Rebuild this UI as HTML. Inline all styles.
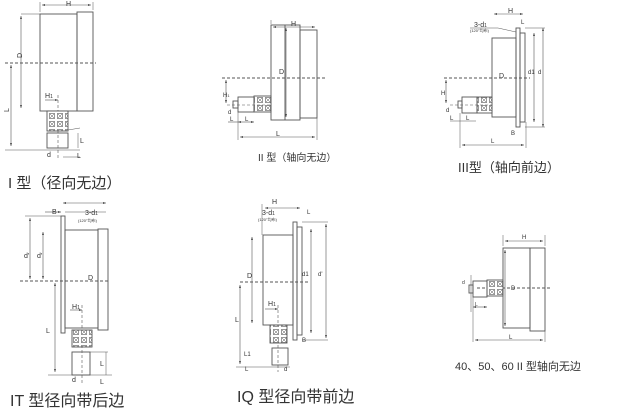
<!DOCTYPE html>
<html><head><meta charset="utf-8">
<style>
html,body{margin:0;padding:0;background:#fff;}
svg{display:block}
text{font-family:"Liberation Sans","Noto Sans CJK SC",sans-serif;fill:#333}
</style></head><body>
<svg width="619" height="414" viewBox="0 0 619 414" xmlns="http://www.w3.org/2000/svg">
<defs>
<marker id="a" viewBox="0 0 6 6" refX="6" refY="3" markerWidth="5" markerHeight="5" orient="auto-start-reverse"><path d="M0,1 L6,3 L0,5z" fill="#444"/></marker>
<pattern id="x" width="8" height="8" patternUnits="userSpaceOnUse"><rect width="8" height="8" fill="#fff"/><rect x="1.5" y="1.5" width="5" height="5" fill="none" stroke="#555" stroke-width="0.6"/><path d="M1.5,1.5L6.5,6.5M6.5,1.5L1.5,6.5" stroke="#555" stroke-width="0.5"/></pattern>
</defs>
<g fill="none" stroke="#555" stroke-width="0.9">
<!-- ===== I type ===== -->
<rect x="40" y="14" width="37" height="97"/>
<rect x="77" y="12" width="16" height="99"/>
<line x1="5" y1="63" x2="96" y2="63" stroke-dasharray="3,2"/>
<line x1="21" y1="14" x2="40" y2="14" stroke-width="0.5"/>
<line x1="21" y1="16" x2="21" y2="108" marker-start="url(#a)" marker-end="url(#a)" stroke-width="0.6"/>
<line x1="40" y1="2" x2="40" y2="12" stroke-width="0.5"/><line x1="93" y1="2" x2="93" y2="10" stroke-width="0.5"/>
<line x1="42" y1="5" x2="91" y2="5" marker-start="url(#a)" marker-end="url(#a)" stroke-width="0.6"/>
<line x1="11" y1="65" x2="11" y2="146" marker-start="url(#a)" marker-end="url(#a)" stroke-width="0.6"/>
<line x1="5" y1="150" x2="80" y2="150" stroke-width="0.6"/>
<line x1="45" y1="100" x2="58" y2="100" marker-end="url(#a)" stroke-width="0.6"/>
<line x1="58" y1="95" x2="58" y2="158" stroke-dasharray="3,2" stroke-width="0.6"/>
<rect x="47" y="111" width="21" height="20" fill="url(#x)"/>
<rect x="47" y="133" width="21" height="15"/>
<line x1="68" y1="130" x2="80" y2="128" stroke-width="0.5"/>
<line x1="78" y1="133" x2="78" y2="148" stroke-width="0.5"/>
<line x1="63" y1="157" x2="80" y2="157" stroke-width="0.5"/>
<!-- ===== IT type ===== -->
<rect x="61" y="216" width="4" height="117"/>
<rect x="65" y="230" width="33" height="98"/>
<rect x="98" y="229" width="10" height="101"/>
<line x1="20" y1="281" x2="110" y2="281" stroke-dasharray="3,2"/>
<line x1="30" y1="218" x2="30" y2="279" marker-start="url(#a)" marker-end="url(#a)" stroke-width="0.6"/>
<line x1="43" y1="232" x2="43" y2="279" marker-start="url(#a)" marker-end="url(#a)" stroke-width="0.6"/>
<line x1="25" y1="216" x2="61" y2="216" stroke-width="0.5"/>
<line x1="55" y1="283" x2="55" y2="372" marker-start="url(#a)" marker-end="url(#a)" stroke-width="0.6"/>
<line x1="48" y1="375" x2="112" y2="375" stroke-width="0.5"/>
<line x1="63" y1="203" x2="106" y2="203" marker-start="url(#a)" marker-end="url(#a)" stroke-width="0.6"/>
<line x1="45" y1="212" x2="61" y2="212" marker-end="url(#a)" stroke-width="0.6"/>
<line x1="65" y1="212" x2="106" y2="212" stroke-width="0.5"/>
<line x1="70" y1="310" x2="82" y2="310" marker-end="url(#a)" stroke-width="0.6"/>
<line x1="82" y1="305" x2="82" y2="385" stroke-dasharray="3,2" stroke-width="0.6"/>
<rect x="72" y="330" width="20" height="17" fill="url(#x)"/>
<rect x="72" y="352" width="18" height="23"/>
<line x1="90" y1="352" x2="108" y2="352" stroke-width="0.5"/>
<line x1="106" y1="352" x2="106" y2="375" stroke-width="0.5"/>
<!-- ===== II type ===== -->
<rect x="271" y="25" width="29" height="95"/>
<line x1="285" y1="25" x2="285" y2="120"/>
<rect x="300" y="30" width="17" height="88"/>
<line x1="222" y1="78" x2="325" y2="78" stroke-dasharray="3,2"/>
<line x1="286" y1="28" x2="286" y2="117" marker-start="url(#a)" marker-end="url(#a)" stroke-width="0.6"/>
<line x1="271" y1="20" x2="271" y2="24" stroke-width="0.5"/>
<line x1="273" y1="27" x2="315" y2="27" marker-start="url(#a)" marker-end="url(#a)" stroke-width="0.6"/>
<rect x="254" y="96" width="17" height="16" fill="url(#x)"/>
<rect x="238" y="97" width="16" height="15"/>
<rect x="233" y="101" width="5" height="7"/>
<line x1="227" y1="105" x2="271" y2="105" stroke-dasharray="3,2" stroke-width="0.6"/>
<line x1="226" y1="80" x2="226" y2="103" marker-start="url(#a)" marker-end="url(#a)" stroke-width="0.6"/>
<line x1="238" y1="122" x2="254" y2="122" marker-start="url(#a)" marker-end="url(#a)" stroke-width="0.6"/>
<line x1="228" y1="122" x2="238" y2="122" stroke-width="0.6"/>
<line x1="238" y1="112" x2="238" y2="140" stroke-width="0.5"/>
<line x1="317" y1="118" x2="317" y2="140" stroke-width="0.5"/>
<line x1="240" y1="137" x2="315" y2="137" marker-start="url(#a)" marker-end="url(#a)" stroke-width="0.6"/>
<!-- ===== III type ===== -->
<rect x="492" y="38" width="24" height="79"/>
<rect x="516" y="28" width="4" height="99"/>
<rect x="520" y="33" width="5" height="89"/>
<line x1="444" y1="78" x2="530" y2="78" stroke-dasharray="3,2"/>
<line x1="534" y1="33" x2="534" y2="122" marker-start="url(#a)" marker-end="url(#a)" stroke-width="0.6"/>
<line x1="543" y1="28" x2="543" y2="127" marker-start="url(#a)" marker-end="url(#a)" stroke-width="0.6"/>
<line x1="525" y1="28" x2="545" y2="28" stroke-width="0.5"/><line x1="525" y1="127" x2="545" y2="127" stroke-width="0.5"/>
<line x1="494" y1="14" x2="523" y2="14" marker-start="url(#a)" marker-end="url(#a)" stroke-width="0.6"/>
<line x1="470" y1="28" x2="498" y2="28" stroke-width="0.5"/><line x1="498" y1="28" x2="516" y2="32" stroke-width="0.5"/>
<rect x="477" y="97" width="15" height="16" fill="url(#x)"/>
<rect x="462" y="97" width="15" height="16"/>
<rect x="458" y="101" width="4" height="7"/>
<line x1="450" y1="105" x2="492" y2="105" stroke-dasharray="3,2" stroke-width="0.6"/>
<line x1="446" y1="80" x2="446" y2="103" marker-start="url(#a)" marker-end="url(#a)" stroke-width="0.6"/>
<line x1="450" y1="121" x2="476" y2="121" stroke-width="0.6"/>
<line x1="460" y1="113" x2="460" y2="148" stroke-width="0.5"/>
<line x1="526" y1="122" x2="526" y2="148" stroke-width="0.5"/>
<line x1="462" y1="145" x2="524" y2="145" marker-start="url(#a)" marker-end="url(#a)" stroke-width="0.6"/>
<!-- ===== IQ type ===== -->
<rect x="263" y="235" width="30" height="90"/>
<rect x="293" y="222" width="4" height="118"/>
<rect x="297" y="227" width="5" height="108"/>
<line x1="240" y1="282" x2="310" y2="282" stroke-dasharray="3,2"/>
<line x1="252" y1="237" x2="252" y2="323" marker-start="url(#a)" marker-end="url(#a)" stroke-width="0.6"/>
<line x1="311" y1="229" x2="311" y2="333" marker-start="url(#a)" marker-end="url(#a)" stroke-width="0.6"/>
<line x1="326" y1="224" x2="326" y2="338" marker-start="url(#a)" marker-end="url(#a)" stroke-width="0.6"/>
<line x1="302" y1="222" x2="328" y2="222" stroke-width="0.5"/><line x1="302" y1="340" x2="328" y2="340" stroke-width="0.5"/>
<line x1="265" y1="208" x2="300" y2="208" marker-start="url(#a)" marker-end="url(#a)" stroke-width="0.6"/>
<line x1="262" y1="204" x2="262" y2="235" stroke-width="0.5"/>
<line x1="240" y1="285" x2="240" y2="364" marker-start="url(#a)" marker-end="url(#a)" stroke-width="0.6"/>
<line x1="236" y1="367" x2="290" y2="367" stroke-width="0.5"/>
<line x1="265" y1="309" x2="278" y2="309" marker-end="url(#a)" stroke-width="0.6"/>
<line x1="278" y1="305" x2="278" y2="372" stroke-dasharray="3,2" stroke-width="0.6"/>
<rect x="270" y="325" width="17" height="18" fill="url(#x)"/>
<rect x="272" y="348" width="16" height="17"/>
<!-- ===== 40/50/60 ===== -->
<rect x="503" y="248" width="27" height="80"/>
<rect x="530" y="248" width="15" height="83"/>
<line x1="505" y1="250" x2="505" y2="326" marker-start="url(#a)" marker-end="url(#a)" stroke-width="0.6"/>
<line x1="477" y1="288" x2="550" y2="288" stroke-dasharray="3,2"/>
<line x1="503" y1="235" x2="503" y2="246" stroke-width="0.5"/><line x1="545" y1="235" x2="545" y2="246" stroke-width="0.5"/>
<line x1="505" y1="241" x2="543" y2="241" marker-start="url(#a)" marker-end="url(#a)" stroke-width="0.6"/>
<rect x="487" y="280" width="16" height="16" fill="url(#x)"/>
<rect x="473" y="281" width="14" height="16"/>
<rect x="469" y="285" width="4" height="8"/>
<line x1="471" y1="275" x2="471" y2="312" stroke-width="0.5"/>
<line x1="473" y1="307" x2="487" y2="307" marker-start="url(#a)" marker-end="url(#a)" stroke-width="0.6"/>
<line x1="473" y1="297" x2="473" y2="342" stroke-width="0.5"/>
<line x1="545" y1="331" x2="545" y2="342" stroke-width="0.5"/>
<line x1="475" y1="340" x2="543" y2="340" marker-start="url(#a)" marker-end="url(#a)" stroke-width="0.6"/>
</g>
<g font-size="7">
<text x="66" y="6">H</text>
<text x="14" y="60" transform="rotate(-90 17 55)">D</text>
<text x="3" y="110" transform="rotate(-90 7 108)">L</text>
<text x="45" y="98">H<tspan font-size="5">1</tspan></text>
<text x="80" y="143">L</text>
<text x="47" y="157">d</text>
<text x="77" y="158">L</text>
<text x="52" y="214">B</text>
<text x="85" y="215">3-d<tspan font-size="5">1</tspan></text>
<text x="78" y="222" font-size="4">(120°均布)</text>
<text x="24" y="258">d'</text><text x="37" y="258">d'</text>
<text x="88" y="280">D</text>
<text x="72" y="309">H<tspan font-size="5">1</tspan></text>
<text x="46" y="333">L</text>
<text x="100" y="366">L</text>
<text x="72" y="382">d</text>
<text x="100" y="384">L</text>
<text x="291" y="26">H</text>
<text x="279" y="74">D</text>
<text x="223" y="97" font-size="6">H<tspan font-size="4">1</tspan></text>
<text x="228" y="114" font-size="6">d</text>
<text x="230" y="121" font-size="6">L</text>
<text x="245" y="121" font-size="6">L</text>
<text x="276" y="136">L</text>
<text x="508" y="13">H</text>
<text x="521" y="24" font-size="6">L</text>
<text x="474" y="27" font-size="7">3-d<tspan font-size="5">1</tspan></text>
<text x="470" y="32" font-size="4">(120°均布)</text>
<text x="499" y="78">D</text>
<text x="528" y="74" font-size="6">d1</text>
<text x="538" y="74" font-size="6">d</text>
<text x="441" y="95" font-size="6">H</text>
<text x="446" y="112" font-size="6">d</text>
<text x="450" y="120" font-size="6">L</text>
<text x="466" y="120" font-size="6">L</text>
<text x="511" y="135" font-size="6">B</text>
<text x="491" y="143" font-size="6">L</text>
<text x="272" y="204">H</text>
<text x="307" y="214" font-size="6">L</text>
<text x="262" y="215">3-d<tspan font-size="5">1</tspan></text>
<text x="258" y="221" font-size="4">(120°均布)</text>
<text x="247" y="278">D</text>
<text x="302" y="276" font-size="6">d1</text>
<text x="318" y="276" font-size="6">d'</text>
<text x="268" y="306">H<tspan font-size="5">1</tspan></text>
<text x="235" y="322">L</text>
<text x="302" y="342" font-size="6">B</text>
<text x="244" y="356" font-size="6">L1</text>
<text x="245" y="371" font-size="6">L</text>
<text x="284" y="371" font-size="6">d</text>
<text x="522" y="239" font-size="6">H</text>
<text x="511" y="290" font-size="6">D</text>
<text x="462" y="284" font-size="5">d</text>
<text x="475" y="306" font-size="5">L</text>
<text x="509" y="339" font-size="6">L</text>
</g>
<text x="8" y="188" font-size="15">I 型（径向无边）</text>
<text x="10" y="406" font-size="16">IT 型径向带后边</text>
<text x="258" y="161" font-size="10">II 型（轴向无边）</text>
<text x="458" y="172" font-size="13">III型（轴向前边）</text>
<text x="237" y="402" font-size="16">IQ 型径向带前边</text>
<text x="455" y="370" font-size="11">40、50、60 II 型轴向无边</text>
</svg>
</body></html>
